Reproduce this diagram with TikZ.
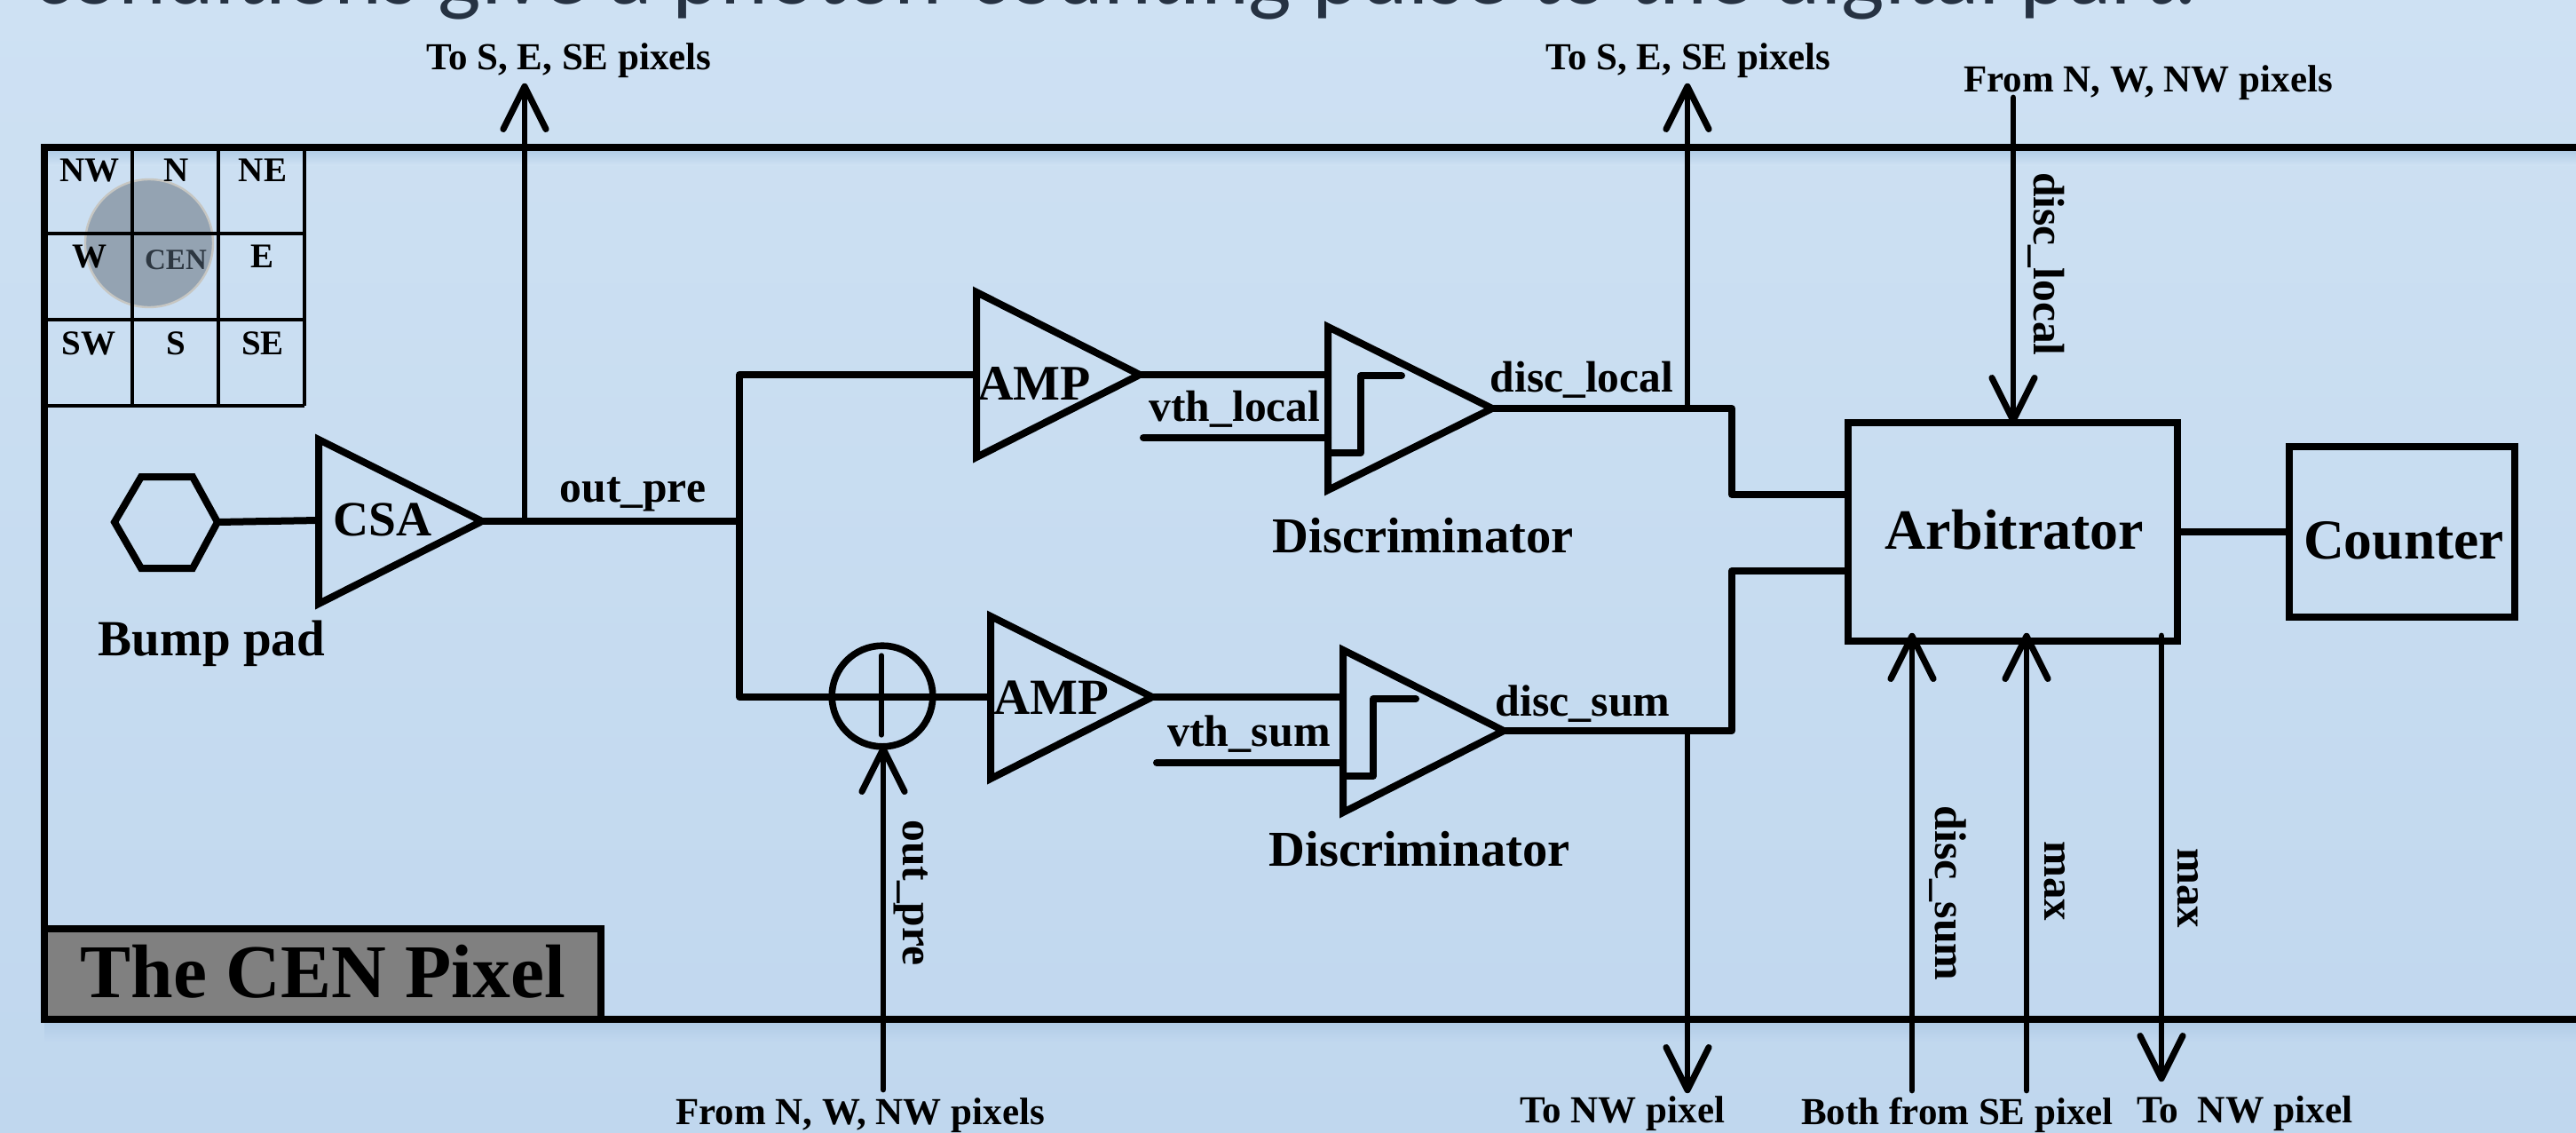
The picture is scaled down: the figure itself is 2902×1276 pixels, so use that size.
\documentclass[tikz,border=0pt]{standalone}
\usepackage{fontspec}
\setmainfont{Liberation Serif}
\newfontfamily\titlefont{Carlito}
\usetikzlibrary{arrows.meta,calc}
\newcommand{\fpx}[1]{\fontsize{\fpeval{#1*0.7113}pt}{\fpeval{#1*0.8}pt}\selectfont\bfseries}
\definecolor{bgtop}{RGB}{206,225,243}
\definecolor{bgbot}{RGB}{192,215,238}
\definecolor{shadowa}{RGB}{178,205,231}
\definecolor{titlec}{RGB}{38,50,66}
\definecolor{circfill}{RGB}{148,163,178}
\definecolor{circedge}{RGB}{198,198,194}
\definecolor{cenc}{RGB}{45,55,65}
\definecolor{pixfill}{RGB}{128,128,128}
\tikzset{
  x=0.025cm,y=-0.025cm,
  wire/.style={line width=0.2cm,line join=miter},
  roundwire/.style={line width=0.2cm,line cap=round},
  gridline/.style={line width=0.11cm},
  framel/.style={line width=0.2cm,line join=miter},
  arr/.style={line width=0.17cm,line cap=round,shorten >=-0.08cm,-{Straight Barb[length=1.2cm,width=1.2cm,line width=0.18cm,round]}},
  lab/.style={inner sep=0,anchor=base,text=black},
  vlab/.style={inner sep=0,anchor=base west,rotate=-90,text=black},
}
\begin{document}
\begin{tikzpicture}
\useasboundingbox (0,0) rectangle (2902,1276);
\shade[top color=bgtop,bottom color=bgbot] (0,0) rectangle (2902,1276);
\begin{scope}
\clip (0,0) rectangle (2902,1276);
\node[lab,anchor=base west,text=titlec] (title) at (37,4) {\titlefont\fontsize{73pt}{85pt}\selectfont conditions give a photon-counting pulse to the digital part.};
% frame shadows
\shade[top color=shadowa,bottom color=bgtop] (50,170) rectangle (2902,186);
\shade[top color=shadowa,bottom color=bgbot] (50,1152) rectangle (2902,1172);
\coordinate (fr-tl) at (50,166);
\coordinate (fr-br) at (2940,1148);
\draw[framel] (fr-tl) rectangle (fr-br);

% neighbour key
\fill[circfill] (168,274) circle [x radius=72,y radius=72];
\draw[circedge,line width=0.06cm] (168,274) circle [x radius=72,y radius=72];
\draw[gridline] (50,263) -- (343,263) (50,360) -- (343,360) (50,457) -- (343,457)
  (149,166) -- (149,457) (246,166) -- (246,457) (343,166) -- (343,457);
\node[lab] (k-nw) at (101,204) {\fpx{39}NW};
\node[lab] (k-n) at (199,204) {\fpx{39}N};
\node[lab] (k-ne) at (296,204) {\fpx{39}NE};
\node[lab] (k-w) at (101,301) {\fpx{39}W};
\node[lab,text=cenc] (k-c) at (198,303) {\fpx{33}CEN};
\node[lab] (k-e) at (296,301) {\fpx{39}E};
\node[lab] (k-sw) at (100,399) {\fpx{39}SW};
\node[lab] (k-s) at (198,399) {\fpx{39}S};
\node[lab] (k-se) at (296,399) {\fpx{39}SE};

% pixel name
\node[draw,framel,fill=pixfill,inner sep=0,minimum width=15.675cm,minimum height=2.55cm] (pixname) at (363.5,1097) {};
\node[lab] (pixtext) at (364,1123) {\fpx{85.5}The CEN Pixel};

% bump pad
\draw[wire] (129,588) -- (159,537) -- (217,537) -- (245,588) -- (217,640) -- (159,640) -- cycle;
\coordinate (bpr) at (245,588);
\node[lab] (bptext) at (238.5,738) {\fpx{57}Bump pad};

% CSA
\draw[wire] (359,495) -- (359,680) -- (543,587) -- cycle;
\coordinate (csai) at (359,586);
\coordinate (csao) at (544,587);
\node[lab] (csatext) at (431,603) {\fpx{55.5}CSA};
\draw[wire] (bpr) -- (csai);
\coordinate (j1) at (833,587);
\draw[wire] (csao) -- (j1);
\node[lab] at (713,565) {\fpx{49.5}out\_pre};
\coordinate (j0) at (591,587);
\coordinate (t1) at (591,97);
\draw[arr] (j0) -- (t1);
\node[lab] at (641,78) {\fpx{43}To S, E, SE pixels};

% upper path
\coordinate (a1i) at (1100,422);
\coordinate (a2i) at (1116,785);
\draw[wire,line join=round] (a1i) -| (j1) |- (a2i);
\draw[wire] (1100,329) -- (1100,515) -- (1284,422) -- cycle;
\node[lab] at (1165,450) {\fpx{56}AMP};
\coordinate (a1o) at (1285,422);
\coordinate (d1a) at (1496,422);
\draw[wire] (a1o) -- (d1a);
\draw[wire] (1496,368) -- (1496,552) -- (1681,460) -- cycle;
\coordinate (d1o) at (1682,460);
\coordinate (d1b) at (1496,493);
\coordinate (v1) at (1288,493);
\draw[roundwire] (v1) -- (d1b);
\draw[wire,line cap=round,line join=round] (1496,510) -- (1533,510) -- (1533,423) -- (1579,423);
\node[lab] at (1391,474) {\fpx{49.5}vth\_local};
\node[lab] at (1603,622) {\fpx{56.5}Discriminator};
\node[lab] at (1782,441) {\fpx{49.5}disc\_local};

% lower path
\node[draw,line width=0.19cm,circle,minimum size=2.84cm,inner sep=0] (sum) at (994,784) {};
\draw[line width=0.13cm,line cap=round] (993,738) -- (993,828);
\draw[wire] (1116,694) -- (1116,877) -- (1298,785) -- cycle;
\node[lab] at (1184,804) {\fpx{57}AMP};
\coordinate (a2o) at (1299,785);
\coordinate (d2a) at (1513,785);
\draw[wire] (a2o) -- (d2a);
\draw[wire] (1513,732) -- (1513,915) -- (1694,823) -- cycle;
\coordinate (d2o) at (1695,823);
\coordinate (d2b) at (1513,859);
\coordinate (v2) at (1303,859);
\draw[roundwire] (v2) -- (d2b);
\draw[wire,line cap=round,line join=round] (1513,874) -- (1547,874) -- (1547,787) -- (1595,787);
\node[lab] at (1407,840) {\fpx{50}vth\_sum};
\node[lab] at (1599,975) {\fpx{56.5}Discriminator};
\node[lab] at (1783,806) {\fpx{50}disc\_sum};
\coordinate (s0) at (995,1227);
\coordinate (s1) at (995,843);
\draw[arr] (s0) -- (s1);
\node[vlab] at (1017,923) {\fpx{49.5}out\_pre};
\node[lab] at (969,1266) {\fpx{43}From N, W, NW pixels};

% arbitrator and counter
\node[draw,line width=0.2cm,inner sep=0,minimum width=9.275cm,minimum height=6.15cm] (arb) at (2267.5,599) {};
\node[lab] at (2269.5,618) {\fpx{64}Arbitrator};
\node[draw,line width=0.2cm,inner sep=0,minimum width=6.35cm,minimum height=4.8cm] (cnt) at (2706,599) {};
\node[lab] at (2708,629) {\fpx{63.5}Counter};
\draw[wire] (arb.east |- cnt.west) -- (cnt.west);
\coordinate (e1) at (1951,460);
\coordinate (e2) at (1951,823);
\coordinate (ai1) at (2082,557);
\coordinate (ai2) at (2082,643);
\draw[wire,line join=round] (d1o) -- (e1) |- (ai1);
\draw[wire,line join=round] (d2o) -- (e2) |- (ai2);

\coordinate (u0) at (1901,460);
\coordinate (u1) at (1901,97);
\draw[arr] (u0) -- (u1);
\node[lab] at (1902,78) {\fpx{43}To S, E, SE pixels};
\coordinate (n0) at (2268,110);
\coordinate (n1) at (2268,474);
\draw[arr] (n0) -- (n1);
\node[lab] at (2420,103) {\fpx{43}From N, W, NW pixels};
\node[vlab] at (2291,194) {\fpx{49.5}disc\_local};
\coordinate (w0) at (1901,823);
\coordinate (w1) at (1901,1228);
\draw[arr] (w0) -- (w1);
\node[lab] at (1828,1264) {\fpx{43}To NW pixel};
\coordinate (b0) at (2154,1228);
\coordinate (b1) at (2154,716);
\draw[arr] (b0) -- (b1);
\coordinate (c0) at (2283,1228);
\coordinate (c1) at (2283,716);
\draw[arr] (c0) -- (c1);
\coordinate (m0) at (2435,716);
\coordinate (m1) at (2435,1215);
\draw[arr] (m0) -- (m1);
\node[lab] at (2205,1266) {\fpx{43}Both from SE pixel};
\node[lab] at (2529,1264) {\fpx{43.5}To\enspace NW pixel};
\node[vlab] at (2180,907) {\fpx{50}disc\_sum};
\node[vlab] at (2303,947) {\fpx{49}max};
\node[vlab] at (2453,955) {\fpx{49}max};
\end{scope}
\end{tikzpicture}
\end{document}
